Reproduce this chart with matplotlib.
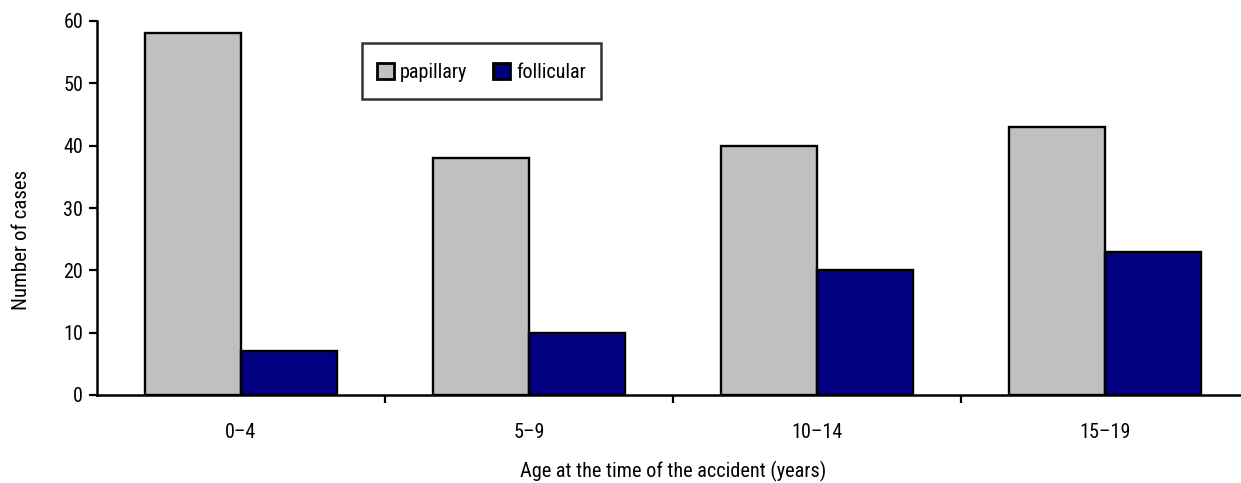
import matplotlib
matplotlib.use("Agg")
import matplotlib.pyplot as plt
import numpy as np
from matplotlib.patches import Patch, Rectangle
from matplotlib.legend_handler import HandlerPatch

# Thyroid cancer cases by age at the time of the accident
age_groups = ["0\u20134", "5\u20139", "10\u201314", "15\u201319"]
papillary = [58, 38, 40, 43]
follicular = [7, 10, 20, 23]

plt.rcParams['font.family'] = ['Roboto Condensed', 'Archivo Narrow', 'DejaVu Sans']

fig = plt.figure(figsize=(12.41, 4.83), dpi=100)
ax = fig.add_axes([97 / 1241, 88 / 483, 1152 / 1241, 374 / 483])

x = np.arange(len(age_groups))
w = 1 / 3
ax.bar(x - w / 2, papillary, width=w, color="#c0c0c0", edgecolor="black", linewidth=1.7, label="papillary")
ax.bar(x + w / 2, follicular, width=w, color="#000080", edgecolor="black", linewidth=1.7, label="follicular")

ax.set_xlim(-0.5, len(age_groups) - 0.5)
ax.set_ylim(0, 60)
ax.set_yticks(range(0, 61, 10))
ax.tick_params(axis="y", direction="out", length=6, width=1.6, labelsize=14.5, pad=4)

# category labels at centres, tick marks at category boundaries
ax.set_xticks(x)
ax.set_xticklabels(age_groups)
ax.set_xticks(np.arange(0.5, len(age_groups) - 0.5, 1), minor=True)
ax.tick_params(axis="x", which="major", length=0, labelsize=14.5, pad=20)
ax.tick_params(axis="x", which="minor", direction="out", length=6, width=1.6)

for side in ("top", "right"):
    ax.spines[side].set_visible(False)
for side in ("left", "bottom"):
    ax.spines[side].set_linewidth(1.8)

ax.set_ylabel("Number of cases", fontsize=15, labelpad=23, y=0.415)
ax.set_xlabel("Age at the time of the accident (years)", fontsize=14.6, labelpad=14)


def square_patch(legend, orig_handle, xdescent, ydescent, width, height, fontsize):
    # square key centred in a taller handle box
    return Rectangle((-xdescent, -ydescent + (height - width) / 2), width, width)


handles = [Patch(facecolor="#c0c0c0", edgecolor="black", linewidth=2, label="papillary"),
           Patch(facecolor="#000080", edgecolor="black", linewidth=2, label="follicular")]
leg = ax.legend(handles=handles, ncol=2, loc="upper left",
                bbox_to_anchor=((362 - 97) / 1152, (395 - 43) / 374),
                handler_map={Patch: HandlerPatch(patch_func=square_patch)},
                fontsize=14.5, frameon=True, fancybox=False, edgecolor="black",
                handlelength=0.82, handleheight=1.6, handletextpad=0.3,
                columnspacing=1.3, borderpad=0.75, borderaxespad=0)
leg.get_frame().set_linewidth(1.8)

fig.savefig("out.png", dpi=100)
